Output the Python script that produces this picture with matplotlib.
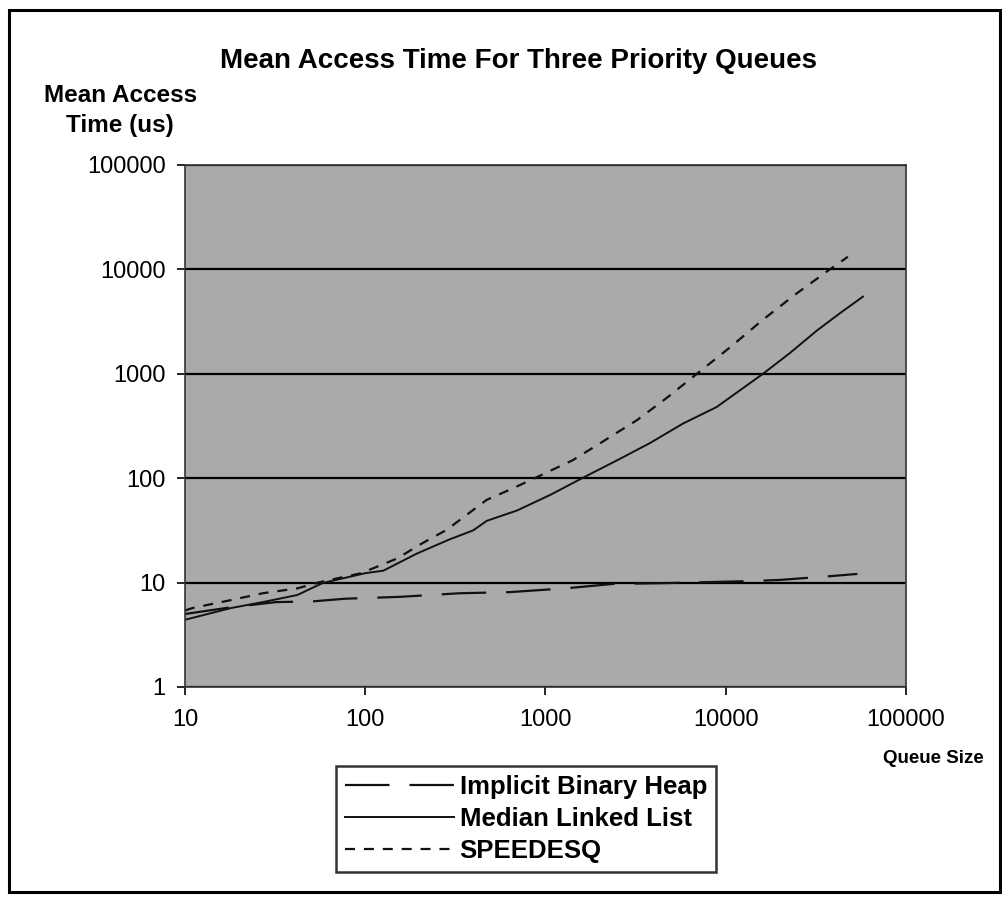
import matplotlib as mlp
mlp.use('Agg')
import matplotlib.pyplot as plt
from matplotlib.patches import Rectangle
import numpy as np

# values (queue size -> mean access time in us)
heap_x = [10, 18, 32, 51, 77, 156, 334, 634, 1285, 2370, 4900, 12800, 20000, 37600, 53700]
heap_y = [5.0, 5.8, 6.5, 6.6, 7.0, 7.3, 7.9, 8.1, 8.8, 9.7, 9.9, 10.3, 10.6, 11.5, 12.1]

mll_x = [10, 18, 27, 42, 58, 100, 126, 194, 295, 397, 472, 695, 1060, 1615, 2510,
         3800, 5800, 8900, 16100, 22700, 32100, 43000, 57700]
mll_y = [4.4, 5.7, 6.5, 7.6, 9.9, 12.3, 13, 19, 26, 31.6, 39, 49, 69, 101, 149,
         217, 334, 480, 1000, 1580, 2600, 3800, 5480]

spd_x = [10, 11, 18, 27, 42, 56, 95, 150, 209, 283, 472, 660, 850, 1420, 2000,
         3220, 4720, 6920, 10600, 16100, 24800, 37800, 47600]
spd_y = [5.4, 5.7, 6.8, 7.9, 8.8, 10.1, 12.3, 17, 24, 32, 62, 80, 98, 149, 215,
         360, 590, 1000, 1800, 3300, 5900, 10000, 13200]

yticks = [1, 10, 100, 1000, 10000, 100000]
xticks = [10, 100, 1000, 10000, 100000]

plt.rcParams['font.family'] = ['Liberation Sans', 'DejaVu Sans']

fig = plt.figure(figsize=(10.02, 8.98), dpi=100)
# outer frame of the scanned figure
fig.patches.append(Rectangle((0.009, 0.0067), 0.989, 0.982, transform=fig.transFigure,
                             fill=False, edgecolor='black', linewidth=2.2))

ax = fig.add_axes([0.1846, 0.2350, 0.7196, 0.5813])
ax.set_facecolor('#aaaaaa')
ax.set_xscale('log')
ax.set_yscale('log')
ax.set_xlim(10, 100000)
ax.set_ylim(1, 100000)

ax.plot(heap_x, heap_y, color='#111111', linewidth=1.6, linestyle=(0, (20, 9)),
        label='Implicit Binary Heap')
ax.plot(mll_x, mll_y, color='#111111', linewidth=1.4, linestyle='-',
        label='Median Linked List')
ax.plot(spd_x, spd_y, color='#111111', linewidth=1.6, linestyle=(0, (4.5, 4)),
        label='SPEEDESQ')

ax.set_yticks(yticks)
ax.set_yticklabels([str(v) for v in yticks])
ax.set_xticks(xticks)
ax.set_xticklabels([str(v) for v in xticks])
ax.minorticks_off()
ax.tick_params(axis='both', which='major', labelsize=17, direction='out', length=6,
               width=1.2, colors='black')
ax.tick_params(axis='x', pad=10)
ax.tick_params(axis='y', pad=8)
ax.yaxis.grid(True, color='black', linewidth=1.6)
ax.xaxis.grid(False)
for s in ax.spines.values():
    s.set_color('#333333')
    s.set_linewidth(1.2)

fig.text(0.517, 0.932, 'Mean Access Time For Three Priority Queues', ha='center', va='center',
         fontsize=20, fontweight='bold')
fig.text(0.12, 0.894, 'Mean Access', ha='center', va='center', fontsize=17.5, fontweight='bold')
fig.text(0.12, 0.860, 'Time (us)', ha='center', va='center', fontsize=17.5, fontweight='bold')
fig.text(0.932, 0.155, 'Queue Size', ha='center', va='center', fontsize=13.5, fontweight='bold')

leg = fig.legend(loc='center', bbox_to_anchor=(0.525, 0.088), frameon=True, fancybox=False,
                 edgecolor='black', handlelength=4.25, handletextpad=0.2, borderpad=0.35,
                 labelspacing=0.3, prop={'weight': 'bold', 'size': 18.5})
leg.get_frame().set_linewidth(1.8)

fig.savefig('out.png', dpi=100)
